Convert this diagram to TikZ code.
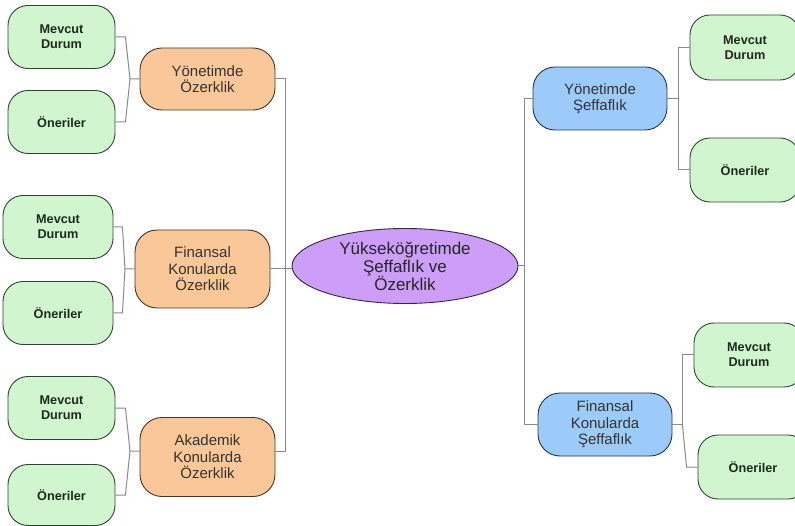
\documentclass[tikz,border=0pt]{standalone}
\usepackage{fontspec}
\setmainfont{Liberation Sans}
\usetikzlibrary{shapes.geometric}
\definecolor{gfill}{HTML}{D1F6CF}
\definecolor{gline}{HTML}{2F452F}
\definecolor{gtext}{HTML}{1C2A1C}
\definecolor{ofill}{HTML}{FAC898}
\definecolor{oline}{HTML}{453525}
\definecolor{bfill}{HTML}{9CCBFA}
\definecolor{bline}{HTML}{25354A}
\definecolor{pfill}{HTML}{CC9EF7}
\definecolor{pline}{HTML}{35254A}
\definecolor{conn}{HTML}{8A8A8A}
\begin{document}
\begin{tikzpicture}[x=1pt,y=-1pt,
  leaf/.style={draw=gline, fill=gfill, rounded corners=20pt, line width=0.9pt,
    minimum width=107pt, minimum height=63pt, align=center, inner sep=0pt,
    font=\fontsize{12.7}{15}\selectfont\bfseries, text=gtext},
  topic/.style={draw=oline, fill=ofill, rounded corners=22pt, line width=0.9pt,
    minimum width=135pt, minimum height=62pt, align=center, inner sep=0pt,
    font=\fontsize{15}{16.5}\selectfont, text=black!80},
  btopic/.style={topic, draw=bline, fill=bfill},
  hub/.style={ellipse, draw=pline, fill=pfill, line width=0.9pt,
    minimum width=226pt, minimum height=75pt, align=center, inner sep=0pt,
    font=\fontsize{17}{18}\selectfont, text=black!85},
  link/.style={draw=conn, line width=1pt}]
\useasboundingbox (0,0) rectangle (795,526);
\clip (0,0) rectangle (795,526);

% left leaves
\node[leaf] (m1) at (61.5,37) {Mevcut\\Durum};
\node[leaf] (o1) at (61.5,122) {Öneriler};
\node[leaf, minimum width=110pt] (m2) at (58,227) {Mevcut\\Durum};
\node[leaf, minimum width=110pt] (o2) at (58,313) {Öneriler};
\node[leaf] (m3) at (61.5,408) {Mevcut\\Durum};
\node[leaf, minimum height=61pt] (o3) at (61.5,495) {Öneriler};

% orange topics
\node[topic] (a1) at (207.5,79) {Yönetimde\\Özerklik};
\node[topic, minimum height=78pt] (a2) at (202.5,269) {Finansal\\Konularda\\Özerklik};
\node[topic, minimum height=79pt] (a3) at (207.5,457) {Akademik\\Konularda\\Özerklik};

% hub
\node[hub] (c) at (405,266) {Yükseköğretimde\\Şeffaflık ve\\Özerklik};

% blue topics
\node[btopic, minimum width=134pt, minimum height=63pt] (s1) at (600,98.5) {Yönetimde\\Şeffaflık};
\node[btopic, minimum width=134pt, minimum height=63pt] (s2) at (605,424.5) {Finansal\\Konularda\\Şeffaflık};

% right leaves
\node[leaf, minimum width=110pt, minimum height=65pt] (rm1) at (745,47.5) {Mevcut\\Durum};
\node[leaf, minimum width=110pt, minimum height=64pt] (ro1) at (745,170) {Öneriler};
\node[leaf, minimum width=110pt, minimum height=64pt] (rm2) at (749,355) {Mevcut\\Durum};
\node[leaf, minimum width=110pt, minimum height=64pt] (ro2) at (753,467) {Öneriler};

% junctions
\coordinate (j1) at (130,79);
\coordinate (j2) at (125,269);
\coordinate (j3) at (130,451);

% left brackets
\draw[link] (m1.east) -- ++(10,0) -- (j1) -- (a1.west);
\draw[link] (o1.east) -- ++(10,0) -- (j1);
\draw[link] (m2.east) -- ++(9,0) -- (j2) -- (a2.west);
\draw[link] (o2.east) -- ++(9,0) -- (j2);
\draw[link] (m3.east) -- ++(10,0) -- (j3) -- (j3 -| a3.west);
\draw[link] (o3.east) -- ++(10,0) -- (j3);

% left spine
\draw[link] (a1.east) -- ++(10,0) coordinate (ls) |- ([yshift=6pt]a3.east);
\draw[link] (a2.east) -- (a2.east -| c.west);

% right spine
\draw[link] (s1.west) -- ++(-8,0) coordinate (rs) |- (s2.west);
\draw[link] (c.east) -- (c.east -| rs);

% right brackets
\draw[link] (s1.east) -- ++(11,0) coordinate (k1);
\draw[link] (k1) |- (rm1.west);
\draw[link] (k1) |- (ro1.west);
\draw[link] (s2.east) -- ++(10,0) coordinate (k2);
\draw[link] (k2) |- (rm2.west);
\draw[link] (k2) -- ([xshift=-11pt]ro2.west) -- (ro2.west);
\end{tikzpicture}
\end{document}
